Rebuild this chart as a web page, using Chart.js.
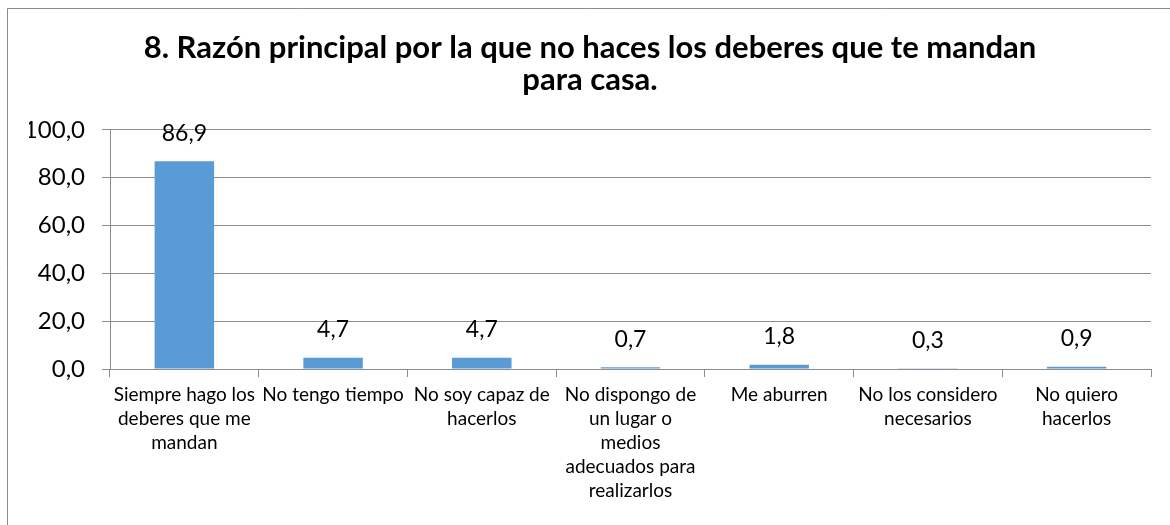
<!DOCTYPE html>
<html>
<head>
<meta charset="utf-8">
<script src="https://cdn.jsdelivr.net/npm/chart.js@4/dist/chart.umd.min.js"></script>
<style>
  html, body { margin: 0; padding: 0; background: #fff; }
  #wrap { position: relative; width: 1170px; height: 525px; }
</style>
</head>
<body>
<div id="wrap"><canvas id="c" width="1170" height="525"></canvas></div>
<script>
const categories = [
  ["Siempre hago los", "deberes que me", "mandan"],
  ["No tengo tiempo"],
  ["No soy capaz de", "hacerlos"],
  ["No dispongo de", "un lugar o", "medios", "adecuados para", "realizarlos"],
  ["Me aburren"],
  ["No los considero", "necesarios"],
  ["No quiero", "hacerlos"]
];
const values = [86.9, 4.7, 4.7, 0.7, 1.8, 0.3, 0.9];
const yTicks = [0, 20, 40, 60, 80, 100];
const titleLines = ["8. Razón principal por la que no haces los deberes que te mandan", "para casa."];

const fmt = v => Number(v).toFixed(1).replace('.', ',');
const gridColor = '#8c8c8c';

const frame = {
  id: 'frame',
  beforeDraw(chart) {
    const ctx = chart.ctx;
    ctx.save();
    ctx.fillStyle = '#fff';
    ctx.fillRect(0, 0, chart.width, chart.height);
    ctx.strokeStyle = '#8c8c8c';
    ctx.lineWidth = 1;
    ctx.beginPath();
    ctx.moveTo(7.5, chart.height + 5);
    ctx.lineTo(7.5, 8.5);
    ctx.lineTo(chart.width + 5, 8.5);
    ctx.stroke();
    ctx.restore();
  }
};

const barLabels = {
  id: 'barLabels',
  afterDatasetsDraw(chart) {
    const ctx = chart.ctx;
    const meta = chart.getDatasetMeta(0);
    ctx.save();
    ctx.font = '23px Lato';
    ctx.fillStyle = '#000';
    ctx.textAlign = 'center';
    ctx.textBaseline = 'middle';
    meta.data.forEach((bar, i) => {
      ctx.fillText(fmt(values[i]), bar.x, bar.y - 28);
    });
    ctx.restore();
  }
};

new Chart(document.getElementById('c'), {
  type: 'bar',
  data: {
    labels: categories,
    datasets: [{
      data: values,
      backgroundColor: '#5b9bd5',
      barPercentage: 0.4,
      categoryPercentage: 1.0
    }]
  },
  options: {
    responsive: false,
    animation: false,
    events: [],
    layout: { padding: { left: 29, right: 19, top: 0, bottom: 0 } },
    plugins: {
      legend: { display: false },
      tooltip: { enabled: false },
      title: {
        display: true,
        text: titleLines,
        color: '#000',
        font: { family: 'Lato', size: 31, weight: 'bold', lineHeight: 1.03 },
        padding: { top: 32, bottom: 34 }
      }
    },
    scales: {
      x: {
        grid: {
          display: true,
          drawOnChartArea: false,
          drawTicks: true,
          tickLength: 8,
          color: gridColor,
          offset: true
        },
        border: { display: true, color: gridColor },
        ticks: {
          color: '#000',
          font: { family: 'Lato', size: 19, lineHeight: 1.26 },
          maxRotation: 0,
          minRotation: 0,
          autoSkip: false,
          padding: 6
        },
        afterFit(scale) { scale.height = 156; }
      },
      y: {
        min: 0,
        max: 100,
        afterBuildTicks(scale) { scale.ticks = yTicks.map(v => ({ value: v })); },
        grid: { color: gridColor, tickLength: 8 },
        border: { display: true, color: gridColor },
        ticks: {
          color: '#000',
          font: { family: 'Lato', size: 24 },
          padding: 17,
          callback: v => fmt(v)
        },
        afterFit(scale) { scale.width = 81; }
      }
    }
  },
  plugins: [frame, barLabels]
});
</script>
</body>
</html>
